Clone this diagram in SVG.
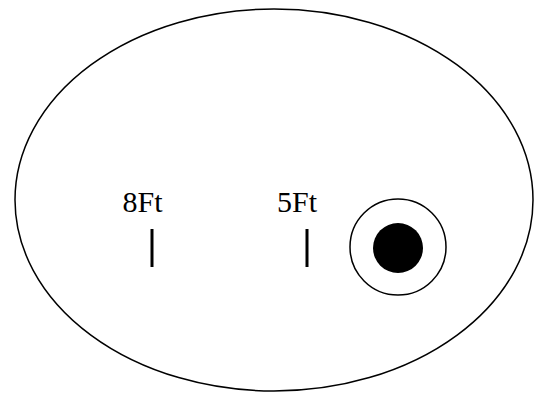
<svg xmlns="http://www.w3.org/2000/svg" width="543" height="393" viewBox="0 0 543 393">
<style>
.o{fill:none;stroke:#000;stroke-width:1.5}
.t{font-family:"Liberation Serif","Times New Roman",serif;font-size:30px;fill:#000;text-anchor:middle}
.m{stroke:#000;stroke-width:3}
</style>
<rect width="543" height="393" fill="#fff"/>
<g id="field"><ellipse class="o" cx="274" cy="200" rx="259" ry="191"/></g>
<g id="mark8"><text class="t" x="142.5" y="212">8Ft</text><line class="m" x1="152" y1="229" x2="152" y2="267"/></g>
<g id="mark5"><text class="t" x="297" y="212">5Ft</text><line class="m" x1="307" y1="229" x2="307" y2="267"/></g>
<g id="target"><circle class="o" cx="398" cy="247" r="48"/><circle cx="398" cy="248" r="25" fill="#000"/></g>
<g id="connectors"/>
</svg>
